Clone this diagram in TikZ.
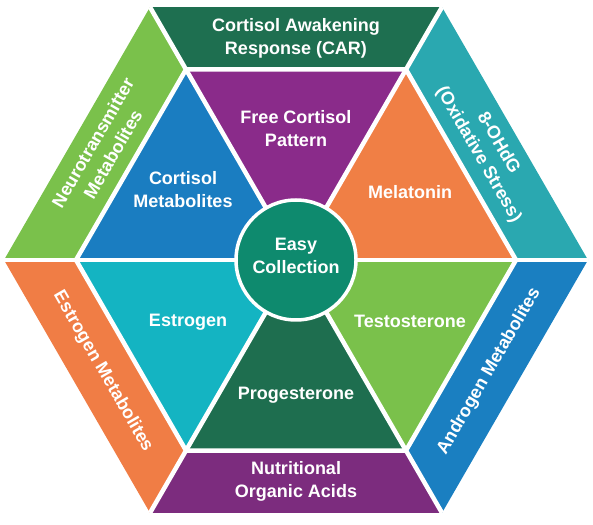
\documentclass[tikz,border=0pt]{standalone}
\usepackage{fontspec}
\setmainfont{Liberation Sans}
\definecolor{cTop}{HTML}{1E6F50}
\definecolor{cNeuro}{HTML}{7AC14B}
\definecolor{cOx}{HTML}{2AA8B0}
\definecolor{cEstM}{HTML}{F07D45}
\definecolor{cAnd}{HTML}{1A7FC1}
\definecolor{cNut}{HTML}{7C2C7E}
\definecolor{cFree}{HTML}{8A2B8A}
\definecolor{cCortM}{HTML}{1A7DC1}
\definecolor{cMel}{HTML}{F07F45}
\definecolor{cEst}{HTML}{14B4C2}
\definecolor{cProg}{HTML}{1E6E4F}
\definecolor{cTest}{HTML}{7AC14B}
\definecolor{cCenter}{HTML}{0E8A6E}
\begin{document}
\begin{tikzpicture}[x=1pt,y=1pt,
  lbl/.style={text=white, align=center, font=\bfseries\fontsize{18}{23}\selectfont, inner sep=0pt},
  gap/.style={draw=white, line width=4.5pt}]
\useasboundingbox (0,0) rectangle (593,524);
\begin{scope}[shift={(296,264)}]
% outer ring segments
\fill[cOx]   (0:292pt) -- (60:292pt) -- (60:220pt) -- (0:220pt) -- cycle;
\fill[cTop]  (60:292pt) -- (120:292pt) -- (120:220pt) -- (60:220pt) -- cycle;
\fill[cNeuro](120:292pt) -- (180:292pt) -- (180:220pt) -- (120:220pt) -- cycle;
\fill[cEstM] (180:292pt) -- (240:292pt) -- (240:220pt) -- (180:220pt) -- cycle;
\fill[cNut]  (240:292pt) -- (300:292pt) -- (300:220pt) -- (240:220pt) -- cycle;
\fill[cAnd]  (300:292pt) -- (360:292pt) -- (360:220pt) -- (300:220pt) -- cycle;
% inner triangles
\fill[cMel]  (0,0) -- (0:220pt) -- (60:220pt) -- cycle;
\fill[cFree] (0,0) -- (60:220pt) -- (120:220pt) -- cycle;
\fill[cCortM](0,0) -- (120:220pt) -- (180:220pt) -- cycle;
\fill[cEst]  (0,0) -- (180:220pt) -- (240:220pt) -- cycle;
\fill[cProg] (0,0) -- (240:220pt) -- (300:220pt) -- cycle;
\fill[cTest] (0,0) -- (300:220pt) -- (360:220pt) -- cycle;
% white gaps
\draw[gap] (0:292pt) -- (180:292pt);
\draw[gap] (60:292pt) -- (240:292pt);
\draw[gap] (120:292pt) -- (300:292pt);
\draw[gap] (0:220pt) -- (60:220pt) -- (120:220pt) -- (180:220pt) -- (240:220pt) -- (300:220pt) -- cycle;
% center
\node[circle, fill=cCenter, draw=white, line width=3.5pt, minimum size=120pt, lbl] (easy) at (0,0) {};
\node[lbl] (easyt) at (0,4) {Easy\\Collection};
% ring labels
\node[lbl] (car) at (90:222pt) {Cortisol Awakening\\Response (CAR)};
\node[lbl] (nut) at (270:221pt) {Nutritional\\Organic Acids};
\node[lbl, rotate=60] (neuro) at (150:223pt) {Neurotransmitter\\Metabolites};
\node[lbl, rotate=-60] (ox) at (30:222pt) {8-OHdG\\(Oxidative Stress)};
\node[lbl, rotate=-60] (estm) at (210:223pt) {Estrogen Metabolites};
\node[lbl, rotate=60] (andm) at (330:223pt) {Androgen Metabolites};
% triangle labels
\node[lbl] (free) at (0,131) {Free Cortisol\\Pattern};
\node[lbl] (cortm) at (-113,70) {Cortisol\\Metabolites};
\node[lbl] (mel) at (114,68) {Melatonin};
\node[lbl] (est) at (-108,-62) {Estrogen};
\node[lbl] (test) at (114,-61) {Testosterone};
\node[lbl] (prog) at (0,-135) {Progesterone};
\end{scope}
\end{tikzpicture}
\end{document}
